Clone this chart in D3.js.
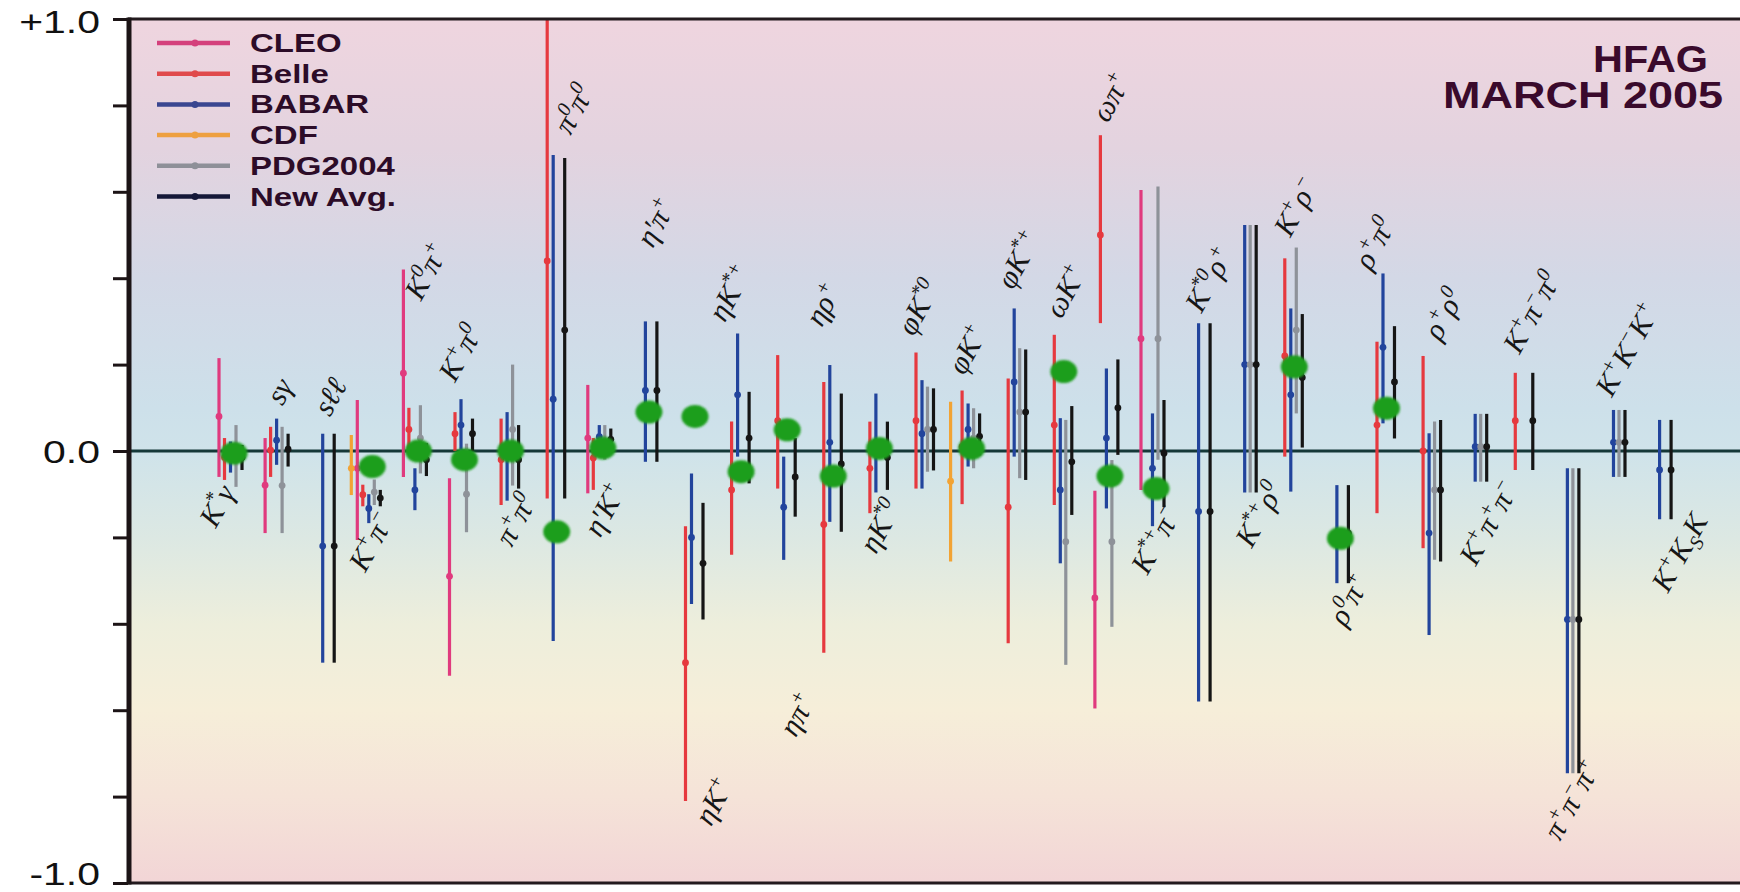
<!DOCTYPE html>
<html>
<head>
<meta charset="utf-8">
<script src="https://cdn.jsdelivr.net/npm/d3@7"></script>
<style>
  body { margin: 0; background: #fff; }
  svg { display: block; }
</style>
</head>
<body>
<svg id="chart" width="1740" height="892"></svg>
<script>
// decay modes, left to right
const modes = ['K^*γ', 'sγ', 'sℓℓ', 'K^+π^−', 'K^0π^+', 'K^+π^0', 'π^+π^0', 'π^0π^0',
  'η′K^+', 'η′π^+', 'ηK^+', 'ηK^{*+}', 'ηπ^+', 'ηρ^+', 'ηK^{*0}', 'φK^{*0}', 'φK^+',
  'φK^{*+}', 'ωK^+', 'ωπ^+', 'K^{*+}π^−', 'K^{*0}ρ^+', 'K^{*+}ρ^0', 'K^+ρ^−', 'ρ^0π^+',
  'ρ^+π^0', 'ρ^+ρ^0', 'K^+π^+π^−', 'K^+π^−π^0', 'π^+π^−π^+', 'K^+K^−K^+', 'K^+K_SK']

// [mode index, value, lower end, upper end]
const cleo = [[0, 0.08, -0.06, 0.215], [1, -0.079, -0.19, 0.03], [3, -0.04, -0.206, 0.118],
  [4, 0.18, -0.06, 0.42], [5, -0.29, -0.52, -0.063], [8, 0.03, -0.098, 0.153],
  [19, -0.34, -0.596, -0.092], [20, 0.26, -0.09, 0.604]]

const belle = [[0, -0.015, -0.067, 0.03], [1, 0.002, -0.06, 0.056], [3, -0.101, -0.128, -0.078],
  [4, 0.05, 0.004, 0.1], [5, 0.04, 0.0, 0.09], [6, -0.02, -0.125, 0.075], [7, 0.44, -0.11, 1.0],
  [8, -0.016, -0.09, 0.03], [10, -0.49, -0.81, -0.174], [11, -0.09, -0.24, 0.068],
  [12, 0.07, -0.087, 0.222], [13, -0.17, -0.467, 0.16], [14, -0.04, -0.144, 0.068],
  [15, 0.07, -0.087, 0.228], [16, 0.01, -0.123, 0.14], [17, -0.13, -0.445, 0.168],
  [18, 0.06, -0.125, 0.269], [19, 0.50, 0.296, 0.731], [23, 0.22, -0.013, 0.446],
  [25, 0.06, -0.144, 0.253], [26, 0.0, -0.225, 0.22], [28, 0.07, -0.044, 0.181]]

const babar = [[0, -0.013, -0.05, 0.022], [1, 0.025, -0.032, 0.075], [2, -0.22, -0.49, 0.04],
  [3, -0.133, -0.167, -0.10], [4, -0.09, -0.137, -0.04], [5, 0.06, -0.01, 0.12],
  [6, -0.01, -0.115, 0.09], [7, 0.12, -0.44, 0.685], [8, 0.033, -0.005, 0.06],
  [9, 0.14, -0.025, 0.30], [10, -0.20, -0.354, -0.052], [11, 0.13, -0.013, 0.272],
  [12, -0.13, -0.252, -0.013], [13, 0.02, -0.164, 0.199], [14, 0.02, -0.096, 0.133],
  [15, 0.04, -0.087, 0.164], [16, 0.05, -0.036, 0.11], [17, 0.16, -0.013, 0.33],
  [18, -0.09, -0.26, 0.076], [19, 0.03, -0.133, 0.191], [20, -0.04, -0.174, 0.087],
  [21, -0.14, -0.58, 0.296], [22, 0.20, -0.096, 0.523], [23, 0.13, -0.094, 0.33],
  [24, -0.19, -0.306, -0.079], [25, 0.24, 0.064, 0.411], [26, -0.19, -0.426, 0.041],
  [27, 0.01, -0.071, 0.086], [29, -0.39, -0.746, -0.04], [30, 0.02, -0.06, 0.095],
  [31, -0.044, -0.158, 0.072]]

const cdf = [[3, -0.04, -0.102, 0.037], [16, -0.07, -0.256, 0.114]]

const pdg = [[0, -0.01, -0.083, 0.06], [1, -0.08, -0.19, 0.056], [3, -0.095, -0.125, -0.066],
  [4, 0.03, -0.052, 0.106], [5, -0.10, -0.188, 0.017], [6, 0.05, -0.08, 0.20],
  [8, 0.02, -0.02, 0.06], [15, 0.05, -0.048, 0.149], [16, 0.03, -0.04, 0.099],
  [17, 0.09, -0.063, 0.238], [18, -0.21, -0.495, 0.072], [19, -0.21, -0.407, -0.021],
  [20, 0.26, -0.02, 0.612], [22, 0.20, -0.096, 0.523], [23, 0.28, 0.087, 0.471],
  [26, -0.09, -0.252, 0.068], [27, 0.01, -0.071, 0.086], [29, -0.39, -0.746, -0.04],
  [30, 0.02, -0.06, 0.095]]

const newAvg = [[0, -0.015, -0.044, 0.014], [1, 0.004, -0.036, 0.04], [2, -0.22, -0.49, 0.04],
  [3, -0.109, -0.128, -0.09], [4, -0.02, -0.058, 0.018], [5, 0.04, 0.0, 0.075],
  [6, -0.02, -0.087, 0.06], [7, 0.28, -0.11, 0.678], [8, 0.027, 0.002, 0.052],
  [9, 0.14, -0.025, 0.30], [10, -0.26, -0.39, -0.12], [11, 0.03, -0.075, 0.137],
  [12, -0.06, -0.152, 0.03], [13, -0.03, -0.187, 0.133], [14, -0.015, -0.09, 0.068],
  [15, 0.05, -0.045, 0.145], [16, 0.034, -0.01, 0.087], [17, 0.09, -0.067, 0.235],
  [18, -0.025, -0.148, 0.104], [19, 0.10, -0.009, 0.212], [20, -0.005, -0.13, 0.118],
  [21, -0.14, -0.58, 0.296], [22, 0.20, -0.096, 0.523], [23, 0.17, 0.008, 0.317],
  [24, -0.19, -0.306, -0.079], [25, 0.16, 0.029, 0.289], [26, -0.09, -0.256, 0.072],
  [27, 0.01, -0.071, 0.086], [28, 0.07, -0.044, 0.181], [29, -0.39, -0.746, -0.04],
  [30, 0.02, -0.06, 0.095], [31, -0.044, -0.158, 0.072]]

// green blobs: [mode index, value]
const prediction = [[0, -0.005], [3, -0.036], [4, 0.0], [5, -0.02], [6, 0.0], [7, -0.187],
  [8, 0.007], [9, 0.09], [10, 0.08], [11, -0.048], [12, 0.049], [13, -0.058], [14, 0.006],
  [16, 0.006], [18, 0.184], [19, -0.058], [20, -0.087], [23, 0.195], [24, -0.202], [25, 0.099]]

// where each mode label sits: shift in mode units, and height in asymmetry units
const labelShift = [-0.52, -0.17, -0.07, -0.17, 0.02, -0.24, -0.04, 0.22, -0.11, 0, 0.26, -0.39,
  0.07, -0.37, -0.13, -0.30, -0.24, -0.13, -0.11, -0.13, -0.15, 0, 0.09, -0.11, 0.04, -0.41,
  0.09, 0.07, 0, -0.13, 0.07, 0.2]
const labelAt = [-0.128, 0.137, 0.125, -0.21, 0.415, 0.226, -0.16, 0.79, -0.137, 0.528, -0.812,
  0.365, -0.611, 0.338, -0.175, 0.331, 0.234, 0.442, 0.369, 0.818, -0.206, 0.396, -0.148, 0.565,
  -0.345, 0.48, 0.316, -0.167, 0.32, -0.808, 0.234, -0.236]

const yTicks = [-1, -0.8, -0.6, -0.4, -0.2, 0, 0.2, 0.4, 0.6, 0.8, 1]
const yTickLabels = [[1, '+1.0'], [0, '0.0'], [-1, '-1.0']]

const experiments = [
  { name: 'CLEO', data: cleo, color: '#e03a7e', legend: '#d4407c', slot: -23 },
  { name: 'Belle', data: belle, color: '#e6393f', legend: '#e04a4c', slot: -17.5 },
  { name: 'BABAR', data: babar, color: '#22449c', legend: '#3a4690', slot: -11.5 },
  { name: 'CDF', data: cdf, color: '#f2a334', legend: '#eea040', slot: -29 },
  { name: 'PDG2004', data: pdg, color: '#8e9299', legend: '#8e9098', slot: -6 },
  { name: 'New Avg.', data: newAvg, color: '#151515', legend: '#141838', slot: 0 }
]

const svg = d3.select('#chart')
const x = d3.scaleLinear().domain([-2.473, 32.495]).range([128, 1740])
const y = d3.scaleLinear().domain([-1, 1]).range([883, 19])

const defs = svg.append('defs')
const grad = defs.append('linearGradient').attr('id', 'bg').attr('x1', 0).attr('y1', 0).attr('x2', 0).attr('y2', 1)
const stops = [[0, '#efd5df'], [0.15, '#e3d3df'], [0.3, '#d3d8e6'], [0.45, '#cde0ea'], [0.5, '#cfe3ea'],
  [0.6, '#dce8e3'], [0.7, '#edeedc'], [0.8, '#f6eed9'], [0.9, '#f5e3d8'], [1, '#f2d5d6']]
grad.selectAll('stop').data(stops).join('stop')
  .attr('offset', d => d[0]).attr('stop-color', d => d[1])
defs.append('filter').attr('id', 'soft').append('feGaussianBlur').attr('stdDeviation', 0.9)

svg.append('rect')
  .attr('x', x.range()[0]).attr('y', y(1))
  .attr('width', x.range()[1] - x.range()[0]).attr('height', y(-1) - y(1))
  .attr('fill', 'url(#bg)')

// zero line
svg.append('line')
  .attr('x1', x.range()[0]).attr('x2', x.range()[1])
  .attr('y1', y(0)).attr('y2', y(0))
  .attr('stroke', '#153838').attr('stroke-width', 3)

// error bars
experiments.forEach((exp) => {
  const g = svg.append('g')
  g.selectAll('line').data(exp.data).join('line')
    .attr('x1', d => x(d[0]) + exp.slot).attr('x2', d => x(d[0]) + exp.slot)
    .attr('y1', d => y(d[2])).attr('y2', d => y(d[3]))
    .attr('stroke', exp.color).attr('stroke-width', 3.2)
  g.selectAll('circle').data(exp.data).join('circle')
    .attr('cx', d => x(d[0]) + exp.slot).attr('cy', d => y(d[1]))
    .attr('r', 3.4).attr('fill', exp.color)
})

// green blobs
svg.append('g').selectAll('ellipse').data(prediction).join('ellipse')
  .attr('cx', d => x(d[0]) - 8).attr('cy', d => y(d[1]))
  .attr('rx', 13.5).attr('ry', 11.5)
  .attr('fill', '#1f9e1f').attr('filter', 'url(#soft)')

// mode labels, with super/subscripts
function mathText (sel, s) {
  const re = /\^\{([^}]*)\}|\^(.)|_\{([^}]*)\}|_(.)|([^^_])/g
  let m
  let cur = 0
  while ((m = re.exec(s))) {
    let txt, off, size
    if (m[1] !== undefined || m[2] !== undefined) { txt = m[1] || m[2]; off = -12; size = 20 }
    else if (m[3] !== undefined || m[4] !== undefined) { txt = m[3] || m[4]; off = 7; size = 20 }
    else { txt = m[5]; off = 0; size = 30 }
    sel.append('tspan').attr('dy', off - cur).attr('font-size', size).text(txt)
    cur = off
  }
}

svg.append('g').selectAll('text').data(modes).join('text')
  .attr('transform', (d, i) => `translate(${x(i + labelShift[i])},${y(labelAt[i])}) rotate(-61)`)
  .attr('text-anchor', 'middle')
  .attr('y', 9)
  .attr('font-family', 'Liberation Serif, DejaVu Serif, serif')
  .attr('font-style', 'italic')
  .attr('fill', '#161616')
  .each(function (d) { mathText(d3.select(this), d) })

// frame
svg.append('line').attr('x1', x.range()[0]).attr('x2', x.range()[1]).attr('y1', y(1)).attr('y2', y(1))
  .attr('stroke', '#231a1e').attr('stroke-width', 3)
svg.append('line').attr('x1', x.range()[0]).attr('x2', x.range()[1]).attr('y1', y(-1)).attr('y2', y(-1))
  .attr('stroke', '#231a1e').attr('stroke-width', 3)

const gAxis = svg.append('g').attr('transform', `translate(${x.range()[0]},0)`)
  .call(d3.axisLeft(y).tickValues(yTicks).tickSize(15).tickFormat(''))
gAxis.select('.domain').remove()
gAxis.selectAll('.tick line').attr('stroke', '#1c1416').attr('stroke-width', 3)
svg.append('line').attr('x1', x.range()[0] + 1).attr('x2', x.range()[0] + 1)
  .attr('y1', y(1) - 1.5).attr('y2', y(-1) + 1.5)
  .attr('stroke', '#1c1416').attr('stroke-width', 5)

svg.append('g').selectAll('text').data(yTickLabels).join('text')
  .attr('transform', d => `translate(100,${y(d[0]) + (d[0] < 0 ? 2 : d[0] > 0 ? 14 : 12)}) scale(1.28,1)`)
  .attr('text-anchor', 'end')
  .attr('font-family', 'Liberation Sans, Arial, sans-serif')
  .attr('font-size', 32)
  .attr('fill', '#111')
  .text(d => d[1])

// legend
const legend = svg.append('g').selectAll('g').data(experiments).join('g')
  .attr('transform', (d, i) => `translate(157,${43 + i * 30.7})`)
legend.append('line').attr('x1', 0).attr('x2', 73)
  .attr('stroke', d => d.legend).attr('stroke-width', 4.5)
legend.append('circle').attr('cx', 38).attr('r', 3.5).attr('fill', d => d.legend)
legend.append('text')
  .attr('transform', 'translate(93,9) scale(1.32,1)')
  .attr('font-family', 'Liberation Sans, Arial, sans-serif')
  .attr('font-weight', 'bold')
  .attr('font-size', 25)
  .attr('fill', '#2c0c28')
  .text(d => d.name)

// stamp
svg.append('text')
  .attr('x', 1708).attr('y', 72).attr('text-anchor', 'end')
  .attr('textLength', 115).attr('lengthAdjust', 'spacingAndGlyphs')
  .attr('font-family', 'Liberation Sans, Arial, sans-serif').attr('font-weight', 'bold')
  .attr('font-size', 37).attr('fill', '#3a0a2c')
  .text('HFAG')
svg.append('text')
  .attr('x', 1723).attr('y', 108).attr('text-anchor', 'end')
  .attr('textLength', 280).attr('lengthAdjust', 'spacingAndGlyphs')
  .attr('font-family', 'Liberation Sans, Arial, sans-serif').attr('font-weight', 'bold')
  .attr('font-size', 37).attr('fill', '#3a0a2c')
  .text('MARCH 2005')
</script>
</body>
</html>
